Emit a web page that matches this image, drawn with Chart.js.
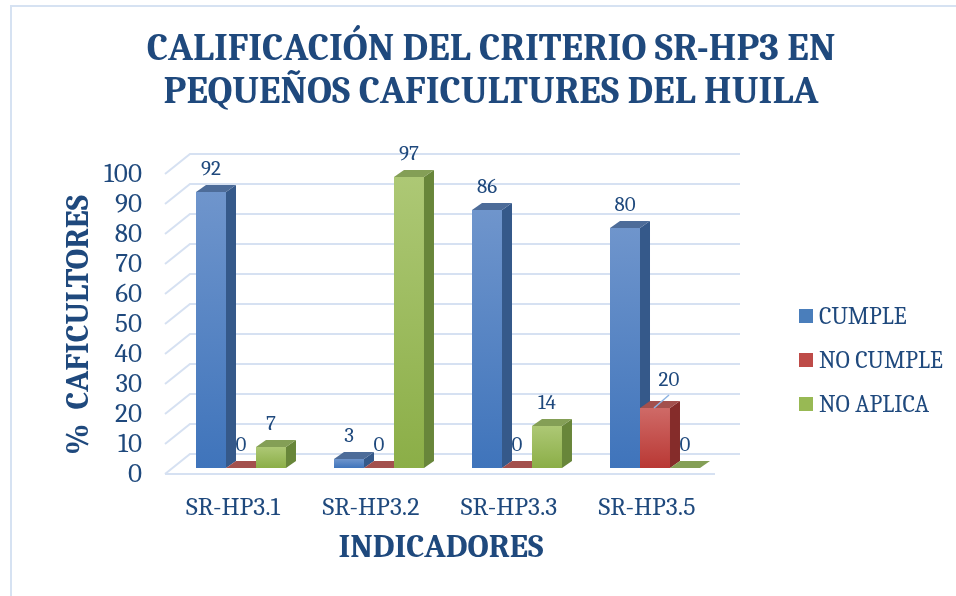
<!DOCTYPE html>
<html>
<head>
<meta charset="utf-8">
<script src="https://cdn.jsdelivr.net/npm/chart.js@4.4.1/dist/chart.umd.min.js"></script>
<style>
html,body{margin:0;padding:0;background:#fff;}
#wrap{width:956px;height:596px;position:relative;}
</style>
</head>
<body>
<div id="wrap"><canvas id="c" width="956" height="596"></canvas></div>
<script>
// ---- data ----
const CATEGORIES = ['SR-HP3.1', 'SR-HP3.2', 'SR-HP3.3', 'SR-HP3.5'];
const SERIES_NAMES = ['CUMPLE', 'NO CUMPLE', 'NO APLICA'];
const CUMPLE = [92, 3, 86, 80];
const NO_CUMPLE = [0, 0, 0, 20];
const NO_APLICA = [7, 97, 14, 0];
const Y_TICKS = [0, 10, 20, 30, 40, 50, 60, 70, 80, 90, 100];
const TITLE_LINES = ['CALIFICACIÓN DEL CRITERIO SR-HP3 EN', 'PEQUEÑOS CAFICULTURES DEL HUILA'];
const Y_TITLE = '%  CAFICULTORES';
const X_TITLE = 'INDICADORES';

// ---- styles ----
const FONT = "Cambria, 'Liberation Serif', serif";
const TXT = '#1f497d';
const PAL = [
  {top:'#6f95cc', bot:'#3f74bb', side:'#35598a', cap:'#4d6c99', key:'#4a7ebb'},
  {top:'#cf6a67', bot:'#b93834', side:'#852c2a', cap:'#a3504d', key:'#be4b48'},
  {top:'#adc875', bot:'#8bae47', side:'#68863a', cap:'#849f56', key:'#98b954'}
];
const DX = 10, DY = -7;

function fitSize(text, weight, target) {
  const c = document.createElement('canvas').getContext('2d');
  c.font = (weight ? weight + ' ' : '') + '100px ' + FONT;
  return 100 * target / c.measureText(text).width;
}
const titleSize = fitSize(TITLE_LINES[0], 'bold', 689);
const yTitleSize = fitSize(Y_TITLE, 'bold', 260);
const xTitleSize = fitSize(X_TITLE, 'bold', 205);
const catSize = fitSize(CATEGORIES[0], '', 94);
const tickSize = fitSize('100', '', 38);
const legendSize = fitSize('NO CUMPLE', '', 124);
const labelSize = fitSize('92', '', 20);

function frontFill(ctx, idx, t, b) {
  if (b - t < 1) return PAL[idx].bot;
  const g = ctx.createLinearGradient(0, t, 0, b);
  g.addColorStop(0, PAL[idx].top);
  g.addColorStop(1, PAL[idx].bot);
  return g;
}
function grad(idx) {
  return function(c) {
    const ch = c.chart;
    if (!ch.chartArea) return PAL[idx].bot;
    const ys = ch.scales.y;
    return frontFill(ch.ctx, idx, ys.getPixelForValue(c.raw), ys.getPixelForValue(0));
  };
}

const threeD = {
  id: 'threeD',
  beforeDraw(chart) {
    const ctx = chart.ctx;
    ctx.save();
    ctx.fillStyle = '#ffffff';
    ctx.fillRect(0, 0, chart.width, chart.height);
    ctx.strokeStyle = '#d6e2f2';
    ctx.lineWidth = 2;
    ctx.strokeRect(11, 6, 1200, 900);
    ctx.restore();
  },
  beforeDatasetsDraw(chart) {
    const ctx = chart.ctx, ys = chart.scales.y, a = chart.chartArea;
    ctx.save();
    ctx.strokeStyle = '#d6e1f2';
    ctx.lineWidth = 2;
    Y_TICKS.forEach(v => {
      const p = ys.getPixelForValue(v);
      ctx.beginPath();
      ctx.moveTo(a.left - 7, p + 6);
      ctx.lineTo(a.left + 18, p - 14);
      ctx.lineTo(a.right + 16, p - 14);
      ctx.stroke();
    });
    const p0 = ys.getPixelForValue(0);
    ctx.beginPath();
    ctx.moveTo(a.left - 7, p0 + 6);
    ctx.lineTo(a.right - 9, p0 + 6);
    ctx.stroke();
    ctx.restore();
  },
  afterDatasetsDraw(chart) {
    const ctx = chart.ctx;
    ctx.save();
    // 3D faces, painted left to right so that nearer-right fronts cover sides
    const bars = [];
    chart.data.datasets.forEach((ds, i) => {
      chart.getDatasetMeta(i).data.forEach((el, j) => bars.push({ el, i, j }));
    });
    bars.sort((p, q) => p.el.x - q.el.x);
    bars.forEach(({ el, i }) => {
      const pal = PAL[i];
      const w = el.width, l = el.x - w / 2, r = el.x + w / 2;
      const t = Math.min(el.y, el.base), b = el.base;
      ctx.fillStyle = frontFill(ctx, i, t, b);
      ctx.fillRect(l, t, w, b - t);
      ctx.fillStyle = pal.side;
      ctx.beginPath();
      ctx.moveTo(r, t); ctx.lineTo(r + DX, t + DY); ctx.lineTo(r + DX, b + DY); ctx.lineTo(r, b);
      ctx.closePath(); ctx.fill();
      ctx.fillStyle = pal.cap;
      ctx.beginPath();
      ctx.moveTo(l, t); ctx.lineTo(l + DX, t + DY); ctx.lineTo(r + DX, t + DY); ctx.lineTo(r, t);
      ctx.closePath(); ctx.fill();
    });
    // data labels (a label hidden by the taller bar on its left is moved out with a leader line)
    ctx.font = labelSize + 'px ' + FONT;
    ctx.textAlign = 'center';
    ctx.textBaseline = 'middle';
    chart.data.datasets.forEach((ds, i) => {
      chart.getDatasetMeta(i).data.forEach((el, j) => {
        const v = ds.data[j];
        const top = Math.min(el.y, el.base);
        const prev = i > 0 ? chart.data.datasets[i - 1].data[j] : 0;
        if (v > 0 && prev > v) {
          ctx.strokeStyle = '#8db3e2';
          ctx.lineWidth = 1.5;
          ctx.beginPath();
          ctx.moveTo(el.x - 1, top);
          ctx.lineTo(el.x + 14, top - 13);
          ctx.stroke();
          ctx.fillStyle = TXT;
          ctx.fillText(String(v), el.x + 14, top - 28);
        } else {
          ctx.fillStyle = TXT;
          ctx.fillText(String(v), el.x, top - 23);
        }
      });
    });
    // legend
    ctx.font = legendSize + 'px ' + FONT;
    ctx.textAlign = 'left';
    SERIES_NAMES.forEach((n, i) => {
      const cy = 316 + i * 44;
      ctx.fillStyle = PAL[i].key;
      ctx.fillRect(799, cy - 7, 14, 14);
      ctx.fillStyle = TXT;
      ctx.fillText(n, 819, cy + 1);
    });
    // axis titles
    ctx.font = 'bold ' + xTitleSize + 'px ' + FONT;
    ctx.textAlign = 'center';
    ctx.fillText(X_TITLE, 441, 548);
    ctx.translate(79, 325);
    ctx.rotate(-Math.PI / 2);
    ctx.font = 'bold ' + yTitleSize + 'px ' + FONT;
    ctx.fillText(Y_TITLE, 0, 0);
    ctx.restore();
  }
};

const datasets = [CUMPLE, NO_CUMPLE, NO_APLICA].map((d, i) => ({
  label: SERIES_NAMES[i],
  data: d,
  backgroundColor: grad(i),
  borderWidth: 0,
  categoryPercentage: 0.652,
  barPercentage: 1,
  xAxisID: 'x',
  yAxisID: 'y'
}));

new Chart(document.getElementById('c'), {
  type: 'bar',
  data: { labels: CATEGORIES, datasets },
  options: {
    responsive: false,
    animation: false,
    layout: { padding: { left: 26, right: 0, top: 0, bottom: 0 } },
    plugins: {
      legend: { display: false },
      tooltip: { enabled: false },
      title: {
        display: true,
        text: TITLE_LINES,
        color: TXT,
        font: { family: FONT, weight: 'bold', size: titleSize, lineHeight: '43px' },
        padding: { top: 28, bottom: 54 }
      }
    },
    scales: {
      x: {
        type: 'category',
        position: 'bottom',
        grid: { display: false, drawTicks: false },
        border: { display: false },
        ticks: { color: TXT, font: { family: FONT, size: catSize }, padding: 24, labelOffset: -8, maxRotation: 0, autoSkip: false },
        afterFit: s => { s.height = 128; }
      },
      y: { type: 'linear', display: false, min: 0, max: 100, position: 'left' },
      y2: {
        type: 'linear', position: 'left', min: 2, max: 102,
        grid: { display: false, drawTicks: false },
        border: { display: false },
        ticks: { color: TXT, font: { family: FONT, size: tickSize }, padding: 30, autoSkip: false },
        afterBuildTicks: s => { s.ticks = Y_TICKS.map(v => ({ value: v })); },
        afterFit: s => { s.width = 146; }
      },
      yR: {
        type: 'linear', position: 'right', min: 0, max: 1,
        grid: { display: false, drawTicks: false },
        border: { display: false },
        ticks: { display: false },
        afterFit: s => { s.width = 232; }
      }
    }
  },
  plugins: [threeD]
});
</script>
</body>
</html>
